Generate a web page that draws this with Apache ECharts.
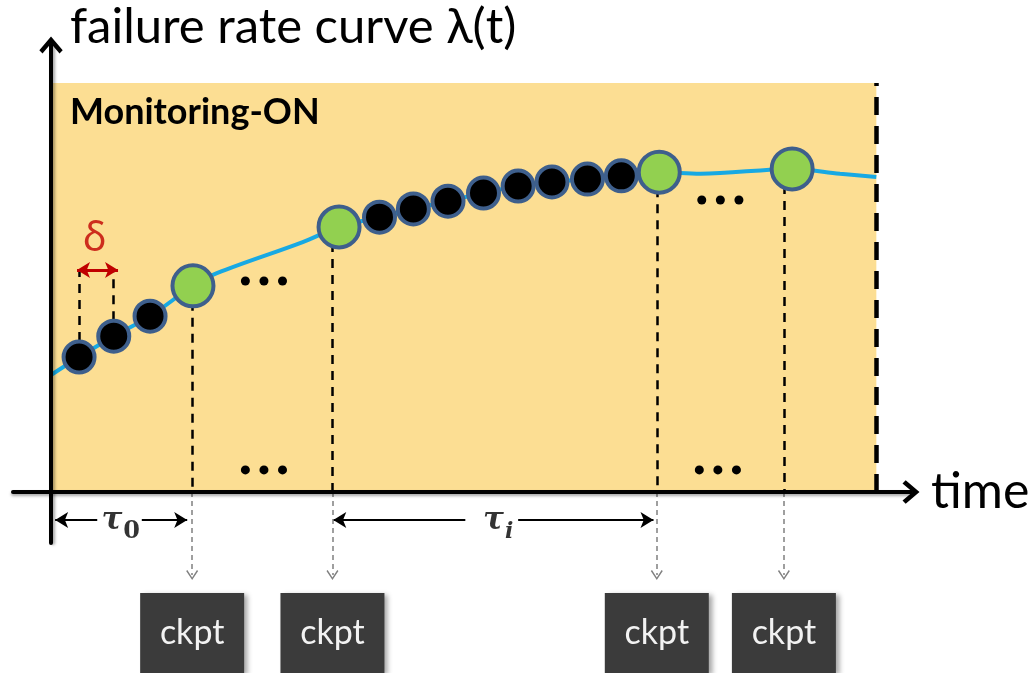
<!DOCTYPE html>
<html><head><meta charset="utf-8">
<script src="https://cdn.jsdelivr.net/npm/echarts@6/dist/echarts.min.js"></script>
<style>html,body{margin:0;padding:0;background:#fff}#c{width:1033px;height:673px}</style>
</head><body><div id="c"></div>
<script>
// ---------- data (t: time units, λ: failure-rate units) ----------
const curveT = [0, 3.4, 7.6, 12.0, 17.2, 20.1, 30.5, 34.9, 39.8, 43.9, 48.1, 52.4, 56.6, 60.7, 65.0, 69.1, 73.7, 78.7, 89.8, 95.6, 100];
const curveL = [0.286, 0.330, 0.381, 0.430, 0.504, 0.535, 0.611, 0.648, 0.672, 0.692, 0.711, 0.731, 0.748, 0.758, 0.765, 0.773, 0.782, 0.778, 0.790, 0.778, 0.770];
const sampleT = [3.4, 7.6, 12.0, 39.8, 43.9, 48.1, 52.4, 56.6, 60.7, 65.0, 69.1];
const sampleL = [0.330, 0.381, 0.430, 0.672, 0.692, 0.711, 0.731, 0.748, 0.758, 0.765, 0.773];
const ckptT = [17.2, 34.9, 73.7, 89.8];
const ckptL = [0.504, 0.648, 0.782, 0.790];
const ckptLineT = [17.1, 34.1, 73.4, 88.8];
const ckptLabels = ['ckpt', 'ckpt', 'ckpt', 'ckpt'];
const monitorStart = 0, monitorEnd = 100, monitorTop = 1.0;
const monitorLabel = 'Monitoring-ON';
const titleText = 'failure rate curve λ(t)';
const timeLabel = 'time';
// δ marker (between first two samples)
const deltaT = [3.4, 7.6];
const deltaL = [0.330, 0.381];
const deltaLevel = 0.543;
const deltaArrowT = [3.15, 8.12];
// τ intervals
const tau0Arrows = [[5.6, 0.5], [11.0, 16.5]];
const tauiArrows = [[50.2, 34.2], [56.6, 73.0]];
const tauLevel = -0.0685;
// "..." ellipses (centres)
const ellipsisT = [25.8, 25.8, 81.1, 80.8];
const ellipsisL = [0.516, 0.054, 0.714, 0.054];
// text annotations
const notes = [
  {text: 'δ', t: 5.3, l: 0.617, kind: 'delta'},
  {text: 'τ', t: 7.39, l: -0.072, kind: 'tau'},
  {text: '0', t: 9.76, l: -0.097, kind: 'sub0'},
  {text: 'τ', t: 53.6, l: -0.072, kind: 'tau'},
  {text: 'i', t: 55.5, l: -0.098, kind: 'subi'}
];

// ---------- axes ranges ----------
const X_MIN = -4.606, X_MAX = 104.2;
const Y_MIN = -0.1247, Y_MAX = 1.0929, Y2_MIN = -0.4425;
const ARROW_LEN = -0.203;   // end of checkpoint arrows below the axis
const BOX_TOP = -0.247, BOX_HALF = 6.3;

const FONT = 'Lato, "Noto Sans", sans-serif';
const chev = 'path://M11,0 L22,13 L19,16 L11,6.5 L3,16 L0,13 Z';
const thinV = 'path://M6,0 L12,9 L10.8,10 L6,2.6 L1.2,10 L0,9 Z';

const curveData = curveT.map((t, i) => [t, curveL[i]]);
const sampleData = sampleT.map((t, i) => [t, sampleL[i]]);
const ckptData = ckptT.map((t, i) => [t, ckptL[i]]);
const dotData = [];
ellipsisT.forEach((t, i) => { [-2.25, 0, 2.25].forEach(d => dotData.push([t + d, ellipsisL[i]])); });

const guideLines = [];
ckptLineT.forEach((t, i) => guideLines.push([{coord: [t, ckptL[i]]}, {coord: [t, 0]}]));
deltaT.forEach((t, i) => guideLines.push([{coord: [t, deltaL[i]]}, {coord: [t, deltaLevel]}]));
const borderLine = [[{coord: [monitorEnd, 0]}, {coord: [monitorEnd, monitorTop]}]];

const arrowLines = [];
tau0Arrows.concat(tauiArrows).forEach(a => arrowLines.push([{coord: [a[0], tauLevel], symbol: 'none'}, {coord: [a[1], tauLevel], symbol: 'arrow'}]));
arrowLines.push([{coord: [deltaArrowT[0], deltaLevel], symbol: 'arrow', lineStyle: {color: '#C00000', width: 3}, itemStyle: {color: '#C00000'}},
                 {coord: [deltaArrowT[1], deltaLevel], symbol: 'arrow'}]);

const noteStyle = {
  delta: {fontSize: 40, color: '#C00000', fontFamily: '"Noto Sans", sans-serif'},
  tau: {fontSize: 31, color: '#000', fontFamily: '"DejaVu Serif", serif', fontStyle: 'italic', fontWeight: 'bold'},
  sub0: {fontSize: 24, color: '#000', fontFamily: '"DejaVu Serif", serif', fontWeight: 'bold'},
  subi: {fontSize: 22, color: '#000', fontFamily: '"DejaVu Serif", serif', fontStyle: 'italic', fontWeight: 'bold'}
};
const noteData = notes.map(n => ({value: [n.t, n.l], label: Object.assign({show: true, position: 'inside', formatter: n.text}, noteStyle[n.kind])}));

const option = {
  animation: false,
  backgroundColor: '#fff',
  title: {text: titleText, left: 70, top: 3, padding: 0,
    textStyle: {fontFamily: FONT, fontSize: 49, fontWeight: 'normal', color: '#000'}},
  grid: [
    {left: 13, width: 898, top: 45, bottom: 130},
    {left: 13, width: 898, top: 45, bottom: 0}
  ],
  xAxis: [
    {type: 'value', gridIndex: 0, min: X_MIN, max: X_MAX, z: 6,
      name: timeLabel, nameLocation: 'end', nameGap: 20,
      nameTextStyle: {fontFamily: FONT, fontSize: 50, color: '#000'},
      axisLine: {onZero: true, symbol: ['none', chev], symbolSize: [24, 17],
        lineStyle: {color: '#000', width: 4, shadowColor: 'rgba(0,0,0,0.35)', shadowBlur: 3, shadowOffsetY: 2}},
      axisTick: {show: false}, axisLabel: {show: false}, splitLine: {show: false}},
    {type: 'value', gridIndex: 1, min: X_MIN, max: X_MAX, show: false}
  ],
  yAxis: [
    {type: 'value', gridIndex: 0, min: Y_MIN, max: Y_MAX, z: 6,
      axisLine: {onZero: true, symbol: ['none', chev], symbolSize: [24, 17],
        lineStyle: {color: '#000', width: 4, shadowColor: 'rgba(0,0,0,0.35)', shadowBlur: 3, shadowOffsetX: 2}},
      axisTick: {show: false}, axisLabel: {show: false}, splitLine: {show: false}},
    {type: 'value', gridIndex: 1, min: Y2_MIN, max: Y_MAX, show: false}
  ],
  series: [
    { // monitoring window + curve
      type: 'line', xAxisIndex: 0, yAxisIndex: 0, z: 3,
      data: curveData, smooth: 0.35, showSymbol: false, silent: true,
      lineStyle: {color: '#18A9E3', width: 4},
      markArea: {silent: true,
        itemStyle: {color: '#FCDE93'},
        label: {show: true, position: 'insideTopLeft', offset: [14, 6],
          fontFamily: FONT, fontWeight: 'bold', fontSize: 36, color: '#000'},
        data: [[{coord: [monitorStart, 0], name: monitorLabel}, {coord: [monitorEnd, monitorTop]}]]}
    },
    { // dashed guides
      type: 'line', xAxisIndex: 0, yAxisIndex: 0, data: [], silent: true,
      markLine: {silent: true, symbol: ['none', 'none'], animation: false, label: {show: false},
        lineStyle: {color: '#000', width: 2.5, type: [9, 7]},
        data: guideLines}
    },
    { // right border of monitoring window
      type: 'line', xAxisIndex: 0, yAxisIndex: 0, data: [], silent: true,
      markLine: {silent: true, symbol: ['none', 'none'], animation: false, label: {show: false},
        lineStyle: {color: '#000', width: 4.5, type: [18, 11]},
        data: borderLine}
    },
    { // interval arrows
      type: 'line', xAxisIndex: 0, yAxisIndex: 0, data: [], silent: true,
      markLine: {silent: true, animation: false, label: {show: false}, symbolSize: [12, 13],
        lineStyle: {color: '#000', width: 2, type: 'solid'},
        data: arrowLines}
    },
    { // monitoring samples
      type: 'scatter', xAxisIndex: 0, yAxisIndex: 0, z: 10, silent: true,
      data: sampleData, symbolSize: 31,
      itemStyle: {color: '#000', borderColor: '#3E5F8C', borderWidth: 4, opacity: 1}
    },
    { // checkpoints
      type: 'scatter', xAxisIndex: 0, yAxisIndex: 0, z: 11, silent: true,
      data: ckptData, symbolSize: 41,
      itemStyle: {color: '#92D050', borderColor: '#3E5F8C', borderWidth: 4, opacity: 1}
    },
    { // ellipsis dots
      type: 'scatter', xAxisIndex: 0, yAxisIndex: 0, z: 10, silent: true,
      data: dotData, symbolSize: 9, itemStyle: {color: '#000', opacity: 1}
    },
    { // text notes
      type: 'scatter', xAxisIndex: 0, yAxisIndex: 0, z: 12, silent: true,
      data: noteData, symbolSize: 1, itemStyle: {color: 'rgba(0,0,0,0)'}
    },
    { // checkpoint arrows and boxes below the axis
      type: 'line', xAxisIndex: 1, yAxisIndex: 1, data: [], silent: true,
      markLine: {silent: true, animation: false, label: {show: false},
        symbol: ['none', thinV], symbolSize: [12, 10],
        lineStyle: {color: '#808080', width: 1.5, type: [5, 4]},
        data: ckptLineT.map(t => [{coord: [t, 0]}, {coord: [t, ARROW_LEN]}])},
      markArea: {silent: true,
        itemStyle: {color: '#3B3B3B', shadowColor: 'rgba(0,0,0,0.35)', shadowBlur: 5, shadowOffsetX: 4, shadowOffsetY: 2},
        label: {show: true, position: 'inside', fontFamily: FONT, fontSize: 34, color: '#F2F2F2'},
        data: ckptLineT.map((t, i) => [{coord: [t - BOX_HALF, BOX_TOP], name: ckptLabels[i]}, {coord: [t + BOX_HALF, Y2_MIN]}])}
    }
  ]
};
const chart = echarts.init(document.getElementById('c'));
chart.setOption(option);
</script>
</body></html>
